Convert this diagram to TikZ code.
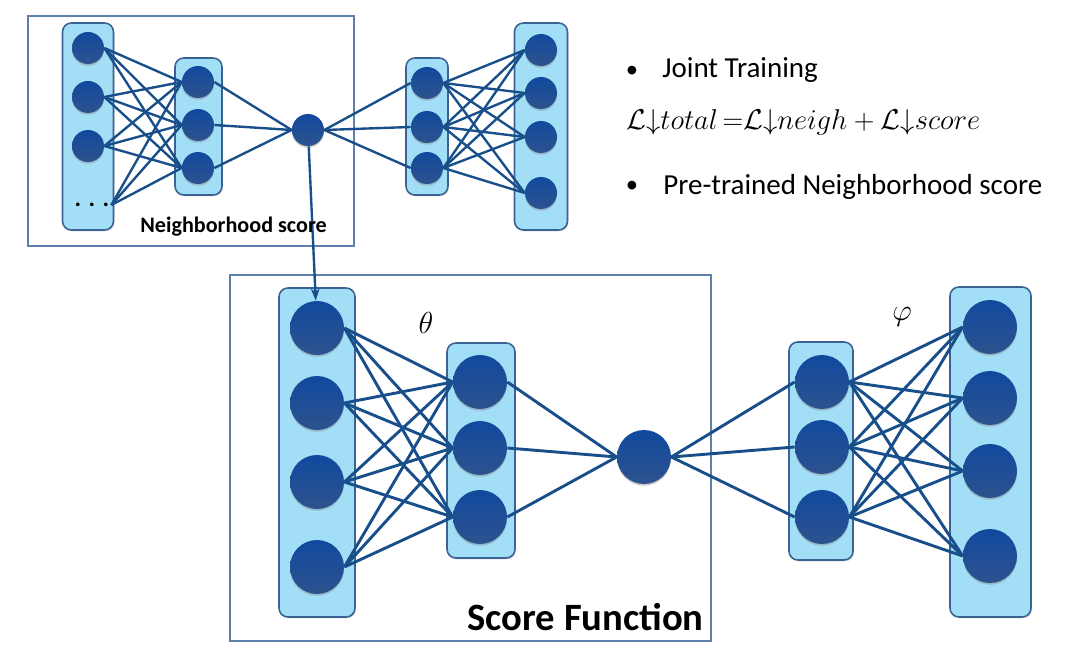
\documentclass[tikz,border=0pt]{standalone}
\usepackage{graphicx}
\usepackage{fontspec}
\setmainfont{Carlito}
\usetikzlibrary{arrows.meta,shadows}

\definecolor{layerfill}{RGB}{162,222,246}
\definecolor{layerline}{RGB}{58,98,146}
\definecolor{unittop}{RGB}{16,74,158}
\definecolor{unitbot}{RGB}{46,82,142}
\definecolor{linkblue}{RGB}{24,78,138}
\definecolor{framecol}{RGB}{94,128,172}

\tikzset{
  layer/.style={draw=layerline, fill=layerfill, rounded corners=5pt, line width=0.9pt,
    drop shadow={opacity=0.3, shadow xshift=0.5pt, shadow yshift=-0.8pt}},
  unit/.style={circle, inner sep=0pt, top color=unittop, bottom color=unitbot,
    drop shadow={opacity=0.4, shadow xshift=0pt, shadow yshift=-1pt}},
  smallunit/.style={unit, minimum size=0.64cm},
  bigunit/.style={unit, minimum size=1.08cm},
  link/.style={draw=linkblue},
  frame/.style={draw=framecol, line width=1.6pt},
  txt/.style={anchor=base west, inner sep=0pt, font=\fontsize{16.5}{20}\selectfont}
}

\begin{document}
\begin{tikzpicture}[x=0.02cm, y=-0.02cm]
  \useasboundingbox (0,0) rectangle (1078,668);

  % frames
  \draw[frame, line width=1.4pt] (28,16) rectangle (354,246);
  \draw[frame] (230,275) rectangle (711,641);

  % layers, top network
  \node[layer, minimum width=1.02cm, minimum height=4.14cm] (tlA) at (88,126.5) {};
  \node[layer, minimum width=0.94cm, minimum height=2.74cm] (tlB) at (198.5,126.5) {};
  \node[layer, minimum width=0.84cm, minimum height=2.74cm] (tlC) at (427,126.5) {};
  \node[layer, minimum width=1.06cm, minimum height=4.14cm] (tlD) at (541,126.5) {};

  % layers, bottom network
  \node[layer, minimum width=1.52cm, minimum height=6.58cm] (blA) at (317,452.5) {};
  \node[layer, minimum width=1.36cm, minimum height=4.30cm] (blB) at (481,450.5) {};
  \node[layer, minimum width=1.28cm, minimum height=4.36cm] (blC) at (821,451) {};
  \node[layer, minimum width=1.62cm, minimum height=6.60cm] (blD) at (990.5,452) {};

  \begin{scope}[every node/.style={smallunit}]
    \node (ta1) at (88,48)  {};
    \node (ta2) at (88,97)  {};
    \node (ta3) at (88,146) {};
    \node (tb1) at (198,82)  {};
    \node (tb2) at (198,125) {};
    \node (tb3) at (198,168) {};
    \node (tm)  at (308,130) {};
    \node (tc1) at (427,83)  {};
    \node (tc2) at (427,127) {};
    \node (tc3) at (427,168) {};
    \node (td1) at (541,50)  {};
    \node (td2) at (541,93)  {};
    \node (td3) at (541,137) {};
    \node (td4) at (541,193) {};
  \end{scope}
  \node[inner sep=1pt, font=\bfseries\fontsize{14}{14}\selectfont] (ta4) at (92,205) {. . .};

  \begin{scope}[every node/.style={bigunit}]
    \node (ba1) at (317,328) {};
    \node (ba2) at (317,403) {};
    \node (ba3) at (317,482) {};
    \node (ba4) at (317,567) {};
    \node (bb1) at (480,382) {};
    \node (bb2) at (480,448) {};
    \node (bb3) at (480,517) {};
    \node (bm)  at (644,457) {};
    \node (bc1) at (822,382) {};
    \node (bc2) at (822,447) {};
    \node (bc3) at (822,517) {};
    \node (bd1) at (990,327) {};
    \node (bd2) at (990,398) {};
    \node (bd3) at (990,471) {};
    \node (bd4) at (990,556) {};
  \end{scope}

  \begin{scope}[every edge/.style={link, line width=1.35pt}]
    \foreach \i in {1,...,4} \foreach \j in {1,2,3}
      \path (ta\i.east) edge (tb\j.west);
    \foreach \j in {1,2,3} {
      \path (tb\j.east) edge (tm.west);
      \path (tm.east) edge (tc\j.west);
    }
    \foreach \i in {1,2,3} \foreach \j in {1,...,4}
      \path (tc\i.east) edge (td\j.west);
  \end{scope}

  \begin{scope}[every edge/.style={link, line width=1.65pt}]
    \foreach \i in {1,...,4} \foreach \j in {1,2,3}
      \path (ba\i.east) edge (bb\j.west);
    \foreach \j in {1,2,3} {
      \path (bb\j.east) edge (bm.west);
      \path (bm.east) edge (bc\j.west);
    }
    \foreach \i in {1,2,3} \foreach \j in {1,...,4}
      \path (bc\i.east) edge (bd\j.west);
  \end{scope}

  % pre-trained score feeds the score function
  \draw[link, line width=1.35pt, -{Stealth[length=7pt,width=5pt]}] (tm) -- (ba1);

  % labels
  \node[anchor=base west, inner sep=0pt, font=\bfseries\fontsize{12.6}{14}\selectfont] (nlabel) at (140,233) {Neighborhood score};
  \node[anchor=base east, inner sep=0pt, font=\bfseries\fontsize{22}{24}\selectfont] (sflabel) at (704,630) {Score Function};
  \node[font=\fontsize{17}{20}\selectfont] (theta) at (426,323) {$\theta$};
  \node[font=\fontsize{17}{20}\selectfont] (phi) at (902,317) {$\varphi$};

  \node[font=\fontsize{14}{14}\selectfont] (bul1) at (632,72) {\textbullet};
  \node[txt] (joint) at (662,78) {Joint Training};
  \node[txt, font=\fontsize{17.28}{20}\selectfont] (loss) at (626,130)
    {\scalebox{0.944}{$\mathcal{L}{\downarrow}total\,{=}\mathcal{L}{\downarrow}neigh+\mathcal{L}{\downarrow}score$}};
  \node[font=\fontsize{14}{14}\selectfont] (bul2) at (632,187) {\textbullet};
  \node[txt] (pretrain) at (663,195) {Pre-trained Neighborhood score};
\end{tikzpicture}
\end{document}
